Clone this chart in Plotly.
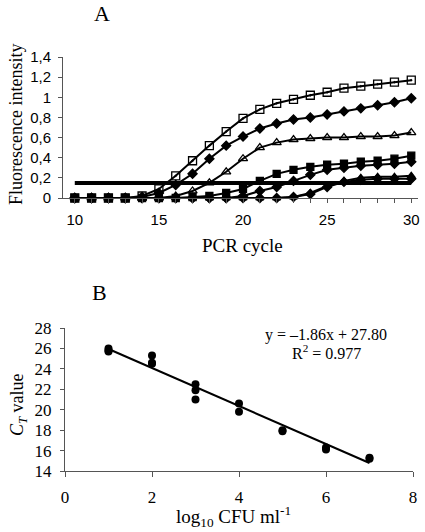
import plotly.graph_objects as go

# ---------------- Panel A data ----------------
cycles = list(range(10, 31))
s1 = [0, 0, 0, 0, 0.02, 0.09, 0.22, 0.37, 0.52, 0.66, 0.79, 0.88, 0.94, 0.98, 1.02, 1.05, 1.09, 1.11, 1.13, 1.15, 1.17]
s2 = [0, 0, 0, 0, 0.01, 0.05, 0.13, 0.24, 0.39, 0.52, 0.61, 0.69, 0.74, 0.78, 0.80, 0.83, 0.86, 0.89, 0.92, 0.95, 0.99]
s3 = [0, 0, 0, 0, 0, 0, 0.02, 0.07, 0.15, 0.26, 0.39, 0.50, 0.55, 0.58, 0.59, 0.60, 0.60, 0.61, 0.61, 0.62, 0.65]
s4 = [0, 0, 0, 0, 0, 0, 0, 0.01, 0.02, 0.05, 0.09, 0.17, 0.24, 0.28, 0.31, 0.33, 0.34, 0.36, 0.37, 0.39, 0.42]
s5 = [0, 0, 0, 0, 0, 0, 0, 0, 0, 0, 0.02, 0.07, 0.11, 0.17, 0.23, 0.28, 0.30, 0.32, 0.33, 0.34, 0.36]
s6 = [0, 0, 0, 0, 0, 0, 0, 0, 0, 0, 0, 0, 0, 0.01, 0.05, 0.12, 0.17, 0.20, 0.21, 0.21, 0.22]
s7 = [0, 0, 0, 0, 0, 0, 0, 0, 0, 0, 0, 0, 0, 0.01, 0.04, 0.11, 0.16, 0.18, 0.19, 0.19, 0.19]
series_a = [s1, s2, s3, s4, s5, s6, s7]
symbols_a = ["square-open-dot", "diamond", "triangle-up-open", "square", "diamond", "triangle-up", "diamond"]
sizes_a = [8, 7, 8, 7, 7, 7, 7]
threshold = 0.15
threshold_x = [10, 30]

ya_ticks = [0, 0.2, 0.4, 0.6, 0.8, 1.0, 1.2, 1.4]
ya_labels = ["0", "0,2", "0,4", "0,6", "0,8", "1", "1,2", "1,4"]
xa_ticks = [10, 15, 20, 25, 30]

# ---------------- Panel B data ----------------
log_cfu = [1, 1, 1, 2, 2, 2, 3, 3, 3, 4, 4, 5, 5, 6, 6, 7, 7]
ct_vals = [26.0, 25.8, 25.7, 25.3, 24.6, 24.5, 22.5, 21.9, 21.0, 20.6, 19.8, 18.0, 17.9, 16.3, 16.1, 15.3, 15.2]
slope = -1.86
intercept = 27.80
fit_x = [1, 7]
fit_y = [slope * x + intercept for x in fit_x]
yb_ticks = [14, 16, 18, 20, 22, 24, 26, 28]
xb_ticks = [0, 2, 4, 6, 8]

W, H = 425, 532
def px(x):
    return x / W
def py(y):
    return 1 - y / H

fig = go.Figure()

for s, sym, sz in zip(series_a, symbols_a, sizes_a):
    fig.add_trace(go.Scatter(
        x=cycles, y=s, mode="lines+markers", xaxis="x", yaxis="y",
        line=dict(color="black", width=2),
        marker=dict(symbol=sym, size=sz, color="black", line=dict(color="black", width=1.3)),
        cliponaxis=False, showlegend=False))

fig.add_trace(go.Scatter(
    x=threshold_x, y=[threshold, threshold], mode="lines", xaxis="x", yaxis="y",
    line=dict(color="black", width=4), showlegend=False, cliponaxis=False))

fig.add_trace(go.Scatter(
    x=log_cfu, y=ct_vals, mode="markers", xaxis="x2", yaxis="y2",
    marker=dict(symbol="circle", size=8, color="black"), showlegend=False, cliponaxis=False))
fig.add_trace(go.Scatter(
    x=fit_x, y=fit_y, mode="lines", xaxis="x2", yaxis="y2",
    line=dict(color="black", width=2), showlegend=False))

axis_col = "#555555"
sans = "Liberation Sans, Arial, sans-serif"
serif = "Liberation Serif, Times New Roman, serif"

common = dict(showline=True, linecolor=axis_col, linewidth=1, showgrid=False, zeroline=False,
              automargin=False, ticks="outside", tickcolor=axis_col)

def note(text, x, y, size, angle=0):
    return dict(text=text, x=px(x), y=py(y), xref="paper", yref="paper", showarrow=False,
                xanchor="center", yanchor="middle", textangle=angle,
                font=dict(family=serif, size=size, color="black"))

fig.update_layout(
    width=W, height=H,
    margin=dict(l=0, r=0, t=0, b=0, autoexpand=False),
    paper_bgcolor="white", plot_bgcolor="white",
    xaxis=dict(domain=[px(63), px(418)], anchor="y", range=[9.3, 30.4],
               tickvals=xa_ticks, ticklen=4, ticklabelstandoff=4,
               minor=dict(dtick=1, tick0=10, ticks="outside", ticklen=4, tickcolor=axis_col),
               tickfont=dict(family=sans, size=15, color="black"), **common),
    yaxis=dict(domain=[py(198), py(57)], anchor="x", range=[0, 1.4],
               tickvals=ya_ticks, ticktext=ya_labels, ticklen=4, ticklabelstandoff=4,
               tickfont=dict(family=sans, size=15, color="black"), **common),
    xaxis2=dict(domain=[px(65), px(413)], anchor="y2", range=[0, 8],
                tickvals=xb_ticks, ticklen=5, ticklabelstandoff=6,
                tickfont=dict(family=serif, size=17, color="black"), **common),
    yaxis2=dict(domain=[py(471), py(328)], anchor="x2", range=[14, 28],
                tickvals=yb_ticks, ticklen=4, ticklabelstandoff=5,
                tickfont=dict(family=serif, size=17, color="black"), **common),
    annotations=[
        note("A", 102, 14, 22),
        note("B", 99, 292, 22),
        note("Fluorescence intensity", 16, 125, 18, -90),
        note("PCR cycle", 242, 246, 19),
        note("<i>C</i><sub><i>T</i></sub> value", 18, 405, 18, -90),
        note("log<sub>10</sub> CFU ml<sup>-1</sup>", 234, 516, 19),
        note("y = \u20131.86x + 27.80", 326, 335, 16),
        note("R<sup>2</sup> = 0.977", 326, 352, 16),
    ],
)

fig.write_html("out.html", config={"displayModeBar": False},
               post_script="document.body.style.margin='0';document.body.style.overflow='hidden';")
